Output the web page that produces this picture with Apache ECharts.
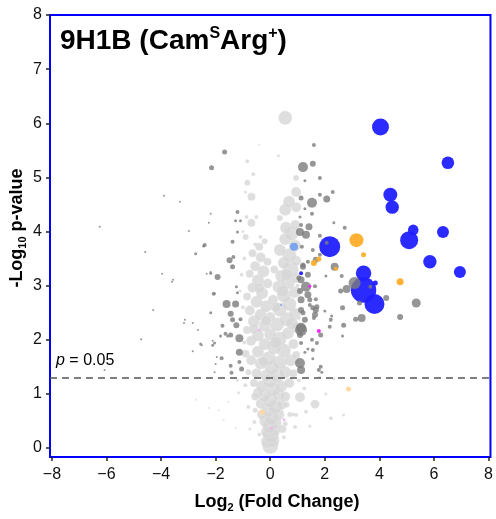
<!DOCTYPE html>
<html>
<head>
<meta charset="utf-8">
<script src="https://cdn.jsdelivr.net/npm/echarts@6/dist/echarts.min.js"></script>
<style>html,body{margin:0;padding:0;background:#fff;}#c{width:496px;height:519px;}</style>
</head>
<body>
<div id="c"></div>
<script>
// Each point: [log2 fold change, -log10 p-value, abundance (bubble scale)]
const xTicks = [-8, -6, -4, -2, 0, 2, 4, 6, 8];
const yTicks = [0, 1, 2, 3, 4, 5, 6, 7, 8];
const pThreshold = 0.05;

const lightGrey = [
[0.00,0.04,8],[-0.08,0.12,7],[0.08,0.14,7],[0.02,0.24,8],[-0.12,0.30,6],[0.14,0.32,6],[-0.02,0.40,7],[0.20,0.46,6],[-0.18,0.50,6],[0.05,0.55,7],
[-0.30,0.62,5],[0.30,0.62,6],[-0.08,0.70,7],[0.18,0.76,7],[-0.35,0.82,5],[0.42,0.80,5],[0.00,0.88,7],[-0.22,0.96,6],[0.30,0.98,6],[0.55,0.95,5],[-0.45,1.02,5],[0.10,1.08,7],
[-0.30,1.14,6],[0.40,1.14,6],[-0.60,1.20,4],[0.70,1.20,5],[0.00,1.24,7],[-0.15,1.34,6],[0.25,1.34,7],[-0.50,1.38,5],[0.55,1.40,6],[0.85,1.38,4],[-0.80,1.40,3],[0.05,1.48,7],
[-0.35,1.56,6],[0.35,1.58,7],[-0.70,1.62,5],[0.75,1.62,6],[-0.05,1.66,7],[0.95,1.72,4],[-0.90,1.74,4],[-0.45,1.78,6],[0.50,1.80,7],[0.15,1.86,7],[-0.20,1.92,6],[0.85,1.92,5],[-0.70,1.98,5],[0.35,2.02,7],
[-0.45,2.08,6],[0.00,2.10,6],[0.65,2.12,6],[-0.85,2.18,4],[0.95,2.22,5],[-0.20,2.26,6],[0.25,2.28,7],[-0.60,2.34,6],[0.60,2.38,7],[0.00,2.42,5],[-0.35,2.46,6],[0.90,2.48,6],
[-0.75,2.54,5],[0.35,2.56,7],[-0.15,2.62,6],[0.70,2.66,7],[-0.50,2.70,6],[0.10,2.74,5],[-0.85,2.80,4],[0.50,2.82,7],[-0.30,2.86,6],[0.90,2.88,6],[-0.65,2.96,5],[0.30,2.98,6],
[-0.10,3.04,5],[0.65,3.06,7],[-0.45,3.10,6],[0.95,3.14,5],[0.40,3.18,6],[-0.75,3.22,4],[-0.25,3.26,6],[0.75,3.30,8],[-0.55,3.36,5],[0.50,3.42,6],[-0.10,3.44,4],[0.95,3.46,5],[-0.35,3.52,5],
[0.70,3.56,7],[-0.65,3.60,4],[0.35,3.66,6],[-0.40,3.72,4],[0.90,3.74,6],[-0.20,3.82,3],[0.55,3.86,6],[-0.90,3.90,3],[-0.55,3.76,2],[0.78,3.96,7],[-0.36,3.90,2],
[0.58,4.07,6],[0.92,4.12,5],[-0.69,4.16,4],[-0.87,4.27,2],[-0.51,4.27,2],[0.55,4.40,6],[0.95,4.45,5],[0.69,4.55,6],[0.35,4.25,3],
[0.95,4.73,5],[0.95,4.99,3],[-0.84,4.90,3],[-0.69,4.64,4],[-0.62,5.06,2],[-0.84,5.30,2],[-0.91,4.73,1.5],[0.55,6.10,7],[0.30,5.40,1.5],[-0.40,5.60,1],
[0.60,0.80,3],[0.72,0.62,2.5],[-0.55,0.70,2.5],[-0.58,0.48,2],[0.55,0.45,2.5],[0.85,0.62,2],[0.91,0.39,2],[-0.75,0.35,1.5],[-0.80,0.76,2],[-0.91,1.16,2],[-1.16,1.02,1.5],[-1.53,0.85,1],[-1.89,0.70,1],[-2.25,0.74,1],[-1.27,0.37,1],[-1.71,0.52,1],[-2.73,0.89,1],[-1.20,1.25,1.5],
[1.09,0.94,5],[1.64,0.81,4.5],[0.95,0.61,2],[1.31,0.67,2],[2.04,1.00,1.5],[2.22,0.55,2],[1.82,1.31,1.5],[2.69,0.61,1.5],[2.33,1.28,1.5],[1.25,1.10,2],[1.45,0.40,1.5],[0.50,0.20,2],[-0.40,0.25,2],
[-1.00,2.60,2],[-1.05,3.20,2],[1.00,3.00,2],[1.05,2.40,2],[-0.95,1.95,2],[1.00,1.60,2],[-1.10,2.90,1.5],[1.05,1.25,2],[-0.95,3.50,2],[-1.00,4.00,1.5],
[-0.55,0.95,4],[0.45,0.35,4],[-0.25,1.60,5],[0.20,2.60,5],[-0.40,2.95,5],[0.15,3.30,4],[0.60,3.20,6],[-0.60,2.20,5],[0.80,2.30,6],[0.20,1.95,6],[-0.15,2.35,5],[0.45,2.90,6]
];

const darkGrey = [
[1.60,5.60,2],[1.20,5.19,5],[1.56,5.25,3],[1.82,4.99,2],[1.27,4.94,1.5],[1.53,4.53,5],[2.07,4.60,3.5],[2.29,4.73,2],[1.82,4.68,2],[1.13,4.62,2.5],[1.27,4.42,1.5],[1.53,4.33,2],[1.42,4.09,3.5],[2.33,4.16,1.5],[2.73,4.07,2],[1.09,4.27,1.5],[-1.67,5.47,2.5],[-2.15,5.18,2.5],
[1.13,4.12,2],[1.09,3.99,4],[1.31,3.94,4],[1.82,3.92,2],[2.07,3.79,2],[1.67,3.48,3],[1.38,3.44,2],[1.20,3.38,2.5],[2.36,3.35,4],[2.62,3.18,2],[2.04,3.18,1.5],[1.38,3.20,3],[1.13,3.11,3.5],[1.31,2.98,5],[3.09,3.05,6],[2.80,2.94,4],[2.58,2.90,2.5],[3.67,2.98,2],[3.27,2.68,2.5],[4.25,2.77,3],[5.35,2.68,4.5],[2.65,2.59,2.5],[3.35,2.40,4],[3.13,2.38,2.5],[4.76,2.42,3],[2.22,2.37,2],[2.18,2.24,2],[2.69,2.27,2.5],[2.65,2.07,1.5],
[1.38,2.83,3.5],[1.13,2.74,3.5],[1.45,2.74,2.5],[1.56,2.59,2.5],[1.67,2.55,3],[1.13,2.55,3],[2.00,2.53,1.5],[1.27,2.37,3],[1.13,2.22,5],[1.60,2.40,2],[1.85,2.09,2.5],[1.09,2.09,3],[1.71,1.94,2],[1.56,1.81,2],[1.38,1.83,1.5],[1.56,1.65,1.5],[1.85,1.50,2],[1.78,1.44,2],[1.89,1.40,1.5],[1.09,1.57,5],[1.13,1.44,4],[1.27,1.77,1.5],[1.13,1.94,2],[1.53,2.00,2],
[-1.13,2.03,4],[-1.13,1.77,3.5],[-1.13,1.59,2],[-1.78,1.66,2],[-1.45,1.52,2],[-1.42,1.39,2],[-1.05,1.46,2.5],[-2.11,1.90,1.5],[-1.56,2.07,1.5],
[-1.20,4.36,2],[-1.09,4.20,1.5],[-1.27,4.20,1.5],[-1.20,3.99,1.5],[-1.38,3.81,2],[-2.40,3.75,2],[-2.73,3.59,1.5],[-1.49,3.47,3],[-1.35,3.53,2],[-1.38,3.35,2.5],[-1.93,3.16,3],[-2.18,3.23,1.5],[-1.24,2.98,1.5],[-1.20,2.87,1.5],[-2.07,2.85,2],[-1.60,2.66,4],[-1.27,2.66,3.5],[-1.45,2.48,3],[-1.38,2.37,2.5],[-1.09,2.38,2],[-1.24,2.27,3],[-1.75,2.26,2],[-1.64,2.11,2],[-1.45,2.09,2.5],[-1.82,2.07,1.5],[-2.04,1.94,1.5],[-2.18,2.50,1.5],[-2.55,1.92,1.5],
[1.56,3.66,2],[1.16,3.72,2],[1.82,3.57,2],[1.20,3.35,3],[1.05,3.14,2.5],[1.64,2.99,2],[1.09,2.90,3],[1.67,2.75,2],[1.45,2.64,2],[1.71,2.61,2.5],[1.64,2.46,3],[1.20,2.50,2.5],[2.25,2.44,1.5],[1.13,2.18,6],
[-3.89,4.66,1],[-3.31,4.55,1],[-6.25,4.09,1],[-2.18,4.33,1],[-2.25,4.16,1],[-2.98,4.01,1],[-2.44,3.73,1.5],[-4.58,3.62,1],[-3.96,3.22,1],[-3.56,3.11,1],[-3.60,3.07,1],[-2.33,3.22,1],[-2.18,3.25,1],[-2.04,2.85,1],[-4.29,2.55,1],[-3.13,2.37,1],[-3.16,2.31,1],[-2.84,2.31,1],[-2.65,2.18,1],[-4.73,2.01,1],[-2.51,1.90,1],[-2.84,1.79,1],[-2.11,1.98,1],[-1.96,1.68,1],[-2.00,1.55,1],[-2.04,1.40,1],[-6.07,1.44,1]
];

const blue = [
[4.04,5.93,8.5],[6.51,5.27,6.3],[4.40,4.68,7],[4.47,4.45,6.7],[5.24,4.03,5.3],[5.09,3.84,9],[6.33,3.99,6],[2.18,3.72,10.5],[5.85,3.44,6.7],[6.95,3.25,6],[3.42,3.23,7.7],[3.42,2.92,12.7],[3.82,2.66,10],[3.85,3.05,2.5],[1.13,3.23,2]
];
const lightBlue = [[0.87,3.72,4],[0.40,2.64,1]];
const orange = [[3.16,3.84,7],[3.42,3.57,2.5],[1.60,3.42,3],[1.78,3.49,2.5],[2.40,3.31,2],[4.76,3.07,3.5]];
const orangeFaint = [[2.87,1.09,2.5],[-0.29,0.66,2.5]];
const magenta = [[1.45,2.99,1.5],[1.78,2.16,2]];
const magentaFaint = [[-0.40,2.18,1.5],[0.51,0.52,1.5],[0.05,0.37,1.5]];

const FONT = 'Liberation Sans, Arial, sans-serif';
const chart = echarts.init(document.getElementById('c'), null, {renderer: 'canvas'});
const size = d => d[2] * 2;
function sc(name, data, color, opacity, z, extra) {
  return Object.assign({
    name, type: 'scatter', data, symbol: 'circle', symbolSize: size, z,
    itemStyle: {color, opacity}, emphasis: {disabled: true}, animation: false
  }, extra || {});
}
chart.setOption({
  animation: false,
  grid: {left: 50, right: 2, top: 15, bottom: 62, show: true, borderColor: '#0000ff', borderWidth: 2, backgroundColor: 'transparent'},
  title: {
    text: '{m|9H1B (Cam}{s|S}{m|Arg}{s|+}{m|)}', left: 55, top: 18,
    textStyle: {rich: {
      m: {fontSize: 28, fontWeight: 'bold', fontFamily: FONT, color: '#000', lineHeight: 36},
      s: {fontSize: 16, fontWeight: 'bold', fontFamily: FONT, color: '#000', lineHeight: 18, padding: [3, 0, 0, 0], verticalAlign: 'top'}
    }}
  },
  xAxis: {
    type: 'value', min: -8.07, max: 8.07, splitLine: {show: false},
    axisLine: {show: false, onZero: false},
    axisTick: {show: true, length: 4, customValues: xTicks, lineStyle: {color: '#222', width: 1.5}},
    axisLabel: {customValues: xTicks, margin: 10, fontSize: 16, fontFamily: FONT, color: '#111',
      formatter: v => (v < 0 ? '\u2212' + (-v) : '' + v)}
  },
  yAxis: {
    type: 'value', min: -0.166, max: 8, splitLine: {show: false},
    axisLine: {show: false, onZero: false},
    axisTick: {show: true, length: 4, customValues: yTicks, lineStyle: {color: '#222', width: 1.5}},
    axisLabel: {customValues: yTicks, margin: 8, fontSize: 16, fontFamily: FONT, color: '#111'}
  },
  graphic: [
    {type: 'text', x: 277, y: 502, z: 100, style: {
      text: '{b|Log}{s|2}{b| (Fold Change)}', align: 'center', verticalAlign: 'middle',
      rich: {b: {fontSize: 18, fontWeight: 'bold', fontFamily: FONT, color: '#000', lineHeight: 22},
             s: {fontSize: 11, fontWeight: 'bold', fontFamily: FONT, color: '#000', lineHeight: 14, verticalAlign: 'bottom'}}}},
    {type: 'text', x: 17, y: 228, rotation: Math.PI / 2, z: 100, style: {
      text: '{b|-Log}{s|10}{b| p-value}', align: 'center', verticalAlign: 'middle',
      rich: {b: {fontSize: 18, fontWeight: 'bold', fontFamily: FONT, color: '#000', lineHeight: 22},
             s: {fontSize: 11, fontWeight: 'bold', fontFamily: FONT, color: '#000', lineHeight: 14, verticalAlign: 'bottom'}}}},
    {type: 'text', x: 56, y: 361, z: 100, style: {
      text: '{i|p}{n| = 0.05}', align: 'left', verticalAlign: 'middle',
      rich: {i: {fontSize: 16, fontStyle: 'italic', fontFamily: FONT, color: '#111'},
             n: {fontSize: 16, fontFamily: FONT, color: '#111'}}}}
  ],
  series: [
    sc('lightGrey', lightGrey, '#d3d3d3', 1, 1, {itemStyle: {color: '#d6d6d6', borderColor: 'rgba(255,255,255,0.5)', borderWidth: 0.5}}),
    sc('orangeFaint', orangeFaint, '#ffd9a0', 1, 2),
    sc('magentaFaint', magentaFaint, '#f0b8f0', 1, 2),
    sc('blue', blue, '#2020ff', 0.95, 3),
    sc('darkGrey', darkGrey, '#7c7c7c', 0.8, 4, {
      markLine: {silent: true, symbol: 'none', animation: false, label: {show: false},
        lineStyle: {type: [7, 5], color: '#555', width: 1.6},
        data: [{yAxis: -Math.log10(pThreshold)}]}
    }),
    sc('orange', orange, '#ffad2a', 0.95, 5),
    sc('lightBlue', lightBlue, '#6f9ff0', 0.9, 6),
    sc('magenta', magenta, '#ff22ff', 1, 7)
  ]
});
</script>
</body>
</html>
